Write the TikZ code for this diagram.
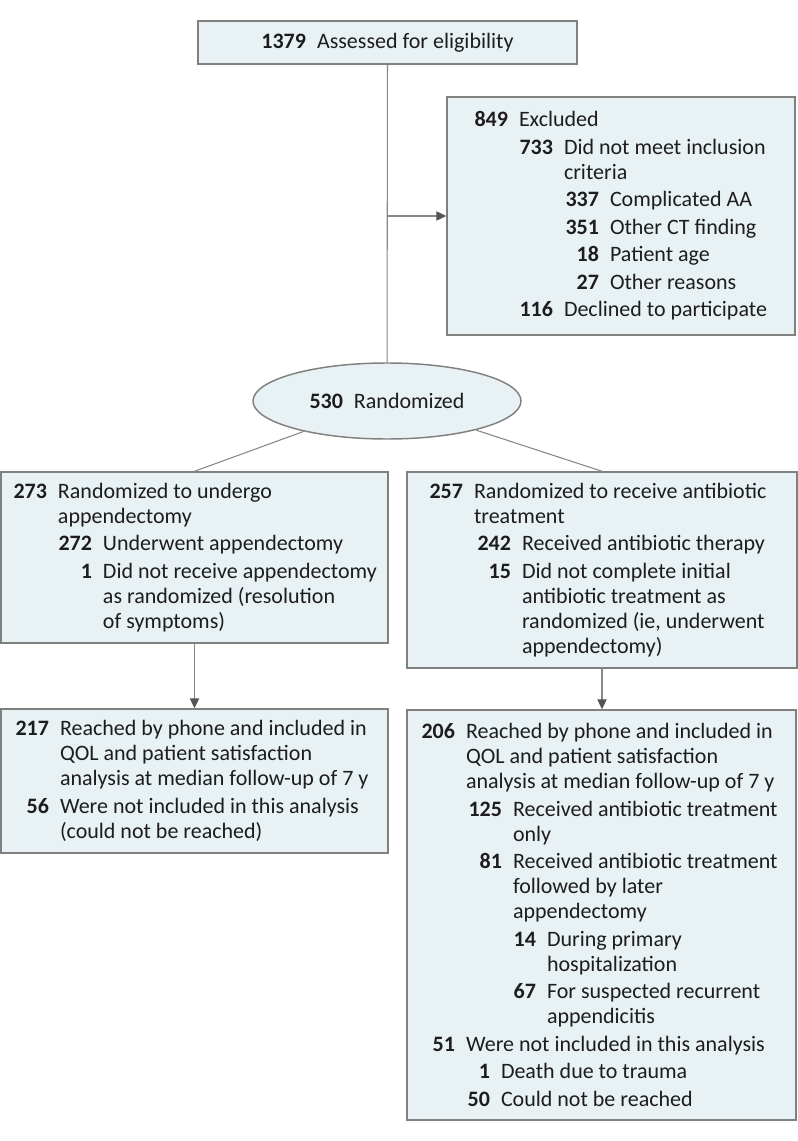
\documentclass[tikz,border=0pt]{standalone}
\usepackage{fontspec}
\setmainfont{Carlito}
\usetikzlibrary{arrows.meta, shapes.geometric}

\definecolor{boxfill}{RGB}{232,242,245}
\definecolor{boxline}{RGB}{128,128,128}
\definecolor{linegray}{RGB}{135,135,135}
\definecolor{tipgray}{RGB}{85,85,85}
\definecolor{ink}{RGB}{30,28,28}

\newdimen\pxu \pxu=0.75pt
% one counted line: number right edge (px), number, text
\newcommand{\crow}[3]{\par\noindent\hangindent=\dimexpr#1\pxu+11\pxu\relax\hangafter=1
  \makebox[#1\pxu][r]{\textbf{#2}}\hspace{11\pxu}#3\par}
\newcommand{\boxtext}[2]{\begin{minipage}{#1\pxu}\rightskip=0pt plus 1fil\parskip=2.5\pxu #2\end{minipage}}

\begin{document}
\begin{tikzpicture}[
						x=0.75pt, y=-0.75pt,
						box/.style = {draw=boxline, line width=1.1pt, fill=boxfill, rectangle, inner sep=0pt,
							text=ink, font=\fontsize{16.5}{18.75}\selectfont},
						oval/.style = {box, ellipse},
						conn/.style = {draw=linegray, line width=0.8pt},
						arr/.style = {conn, -{Triangle[length=7.5pt, width=7pt, color=tipgray]}}
					]
\useasboundingbox (0,0) rectangle (798,1141);

\node[box, minimum width=284.25pt, minimum height=32.25pt] (assess) at (387.5,42.5)
	{\textbf{1379}\hspace{11\pxu}Assessed for eligibility};
\node[box, minimum width=261pt, minimum height=178.5pt] (excl) at (621,216) {\boxtext{348}{%
	\crow{61}{849}{Excluded}
	\crow{106}{733}{Did not meet inclusion\\criteria}
	\crow{152}{337}{Complicated AA}
	\crow{152}{351}{Other CT finding}
	\crow{152}{18}{Patient age}
	\crow{152}{27}{Other reasons}
	\crow{106}{116}{Declined to participate}}};
\node[oval, minimum width=201pt, minimum height=57pt] (rand) at (387,401)
	{\textbf{530}\hspace{11\pxu}Randomized};

\node[box, minimum width=290.25pt, minimum height=128.25pt] (surg) at (194.5,557.5) {\boxtext{387}{%
	\crow{46}{273}{Randomized to undergo\\appendectomy}
	\crow{91}{272}{Underwent appendectomy}
	\crow{91}{1}{Did not receive appendectomy\\as randomized (resolution\\of symptoms)}}};
\node[box, minimum width=292.5pt, minimum height=147pt] (abx) at (602,570) {\boxtext{390}{%
	\crow{56}{257}{Randomized to receive antibiotic\\treatment}
	\crow{104}{242}{Received antibiotic therapy}
	\crow{104}{15}{Did not complete initial\\antibiotic treatment as\\randomized (ie, underwent\\appendectomy)}}};

\node[box, minimum width=290.25pt, minimum height=108pt] (surgfu) at (194.5,781) {\boxtext{387}{%
	\crow{48}{217}{Reached by phone and included in\\QOL and patient satisfaction\\analysis at median follow-up of 7 y}
	\crow{48}{56}{Were not included in this analysis\\(could not be reached)}}};
\node[box, minimum width=291.75pt, minimum height=307.5pt] (abxfu) at (601.5,915) {\boxtext{389}{%
	\crow{48}{206}{Reached by phone and included in\\QOL and patient satisfaction\\analysis at median follow-up of 7 y}
	\crow{95}{125}{Received antibiotic treatment\\only}
	\crow{95}{81}{Received antibiotic treatment\\followed by later\\appendectomy}
	\crow{129}{14}{During primary\\hospitalization}
	\crow{129}{67}{For suspected recurrent\\appendicitis}
	\crow{48}{51}{Were not included in this analysis}
	\crow{83}{1}{Death due to trauma}
	\crow{83}{50}{Could not be reached}}};

\coordinate (brk) at (387.5,216);

\draw[conn] (assess) -- (rand);
\draw[arr] (brk) -- (excl.west);
\draw[conn] (rand) -- (surg.north);
\draw[conn] (rand) -- (abx.north);
\draw[arr] (surg.south) -- (surgfu.north);
\draw[arr] (abx.south) -- (abx.south |- abxfu.north);
\end{tikzpicture}
\end{document}
